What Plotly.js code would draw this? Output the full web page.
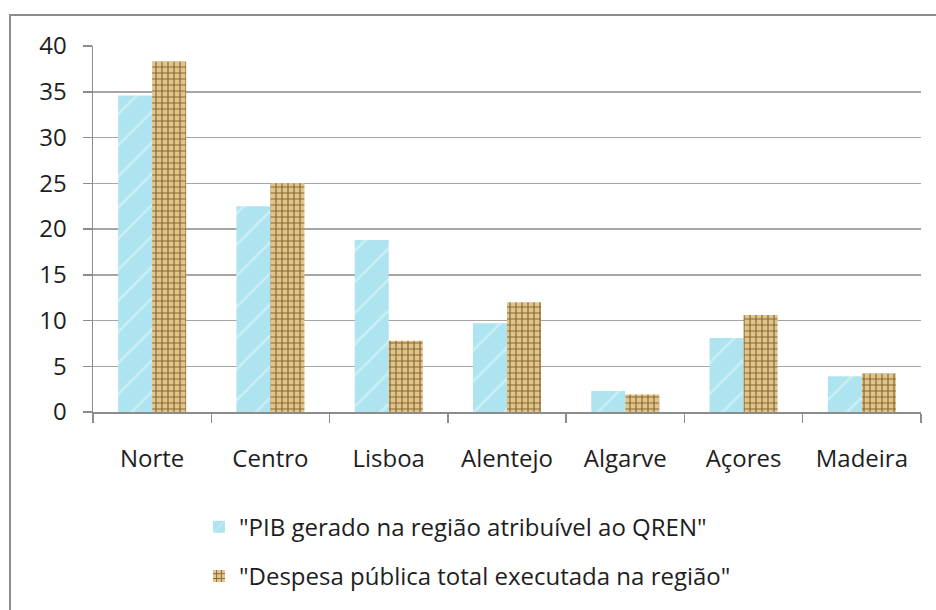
<!DOCTYPE html>
<html>
<head>
<meta charset="utf-8">
<script src="https://cdn.plot.ly/plotly-3.0.1.min.js"></script>
<style>
  html, body { margin: 0; padding: 0; background: #ffffff; }
  #wrap { position: relative; width: 936px; height: 610px; overflow: hidden; }
  #frame { position: absolute; left: 9px; top: 14px; width: 1000px; height: 700px;
           border-left: 2px solid #8c8c8c; border-top: 2px solid #8c8c8c; pointer-events: none; }
  #chart { position: absolute; left: 0; top: 0; width: 936px; height: 610px; }
</style>
</head>
<body>
<div id="wrap">
  <div id="chart"></div>
  <div id="frame"></div>
</div>
<script>
const categories = ["Norte", "Centro", "Lisboa", "Alentejo", "Algarve", "Açores", "Madeira"];
const pibValues = [34.6, 22.5, 18.8, 9.7, 2.3, 8.1, 3.9];
const despesaValues = [38.3, 25.0, 7.8, 12.0, 1.9, 10.6, 4.2];
const seriesNames = ['"PIB gerado na região atribuível ao QREN"', '"Despesa pública total executada na região"'];
const yTicks = [0, 5, 10, 15, 20, 25, 30, 35, 40];

const font = { family: '"Open Sans", "Noto Sans", sans-serif', size: 24, color: '#1e1e1e' };

const traces = [
  {
    type: 'bar', x: categories, y: pibValues, name: seriesNames[0], legendgroup: 'a',
    marker: {
      color: '#ade4ef',
      line: { width: 0 },
      pattern: { shape: '/', bgcolor: '#ade4ef', fgcolor: '#c9eff6', size: 22, solidity: 0.12, fillmode: 'replace' }
    },
    hoverinfo: 'x+y'
  },
  {
    type: 'bar', x: categories, y: despesaValues, name: seriesNames[1], legendgroup: 'b',
    marker: {
      color: '#d8bb7e',
      line: { width: 0 },
      pattern: { shape: '+', bgcolor: '#e0c68c', fgcolor: '#8a6630', size: 6, solidity: 0.35, fillmode: 'replace' }
    },
    hoverinfo: 'x+y'
  }
];

const layout = {
  width: 936, height: 610,
  margin: { l: 93, r: 15, t: 46, b: 197 },
  paper_bgcolor: '#ffffff', plot_bgcolor: '#ffffff',
  font: font,
  barmode: 'group', bargap: 0.425, bargroupgap: 0,
  showlegend: true,
  legend: {
    orientation: 'v', x: 0.128, xanchor: 'left', y: -0.25, yanchor: 'top',
    font: font, tracegroupgap: 15, bgcolor: 'rgba(0,0,0,0)', itemwidth: 30
  },
  xaxis: {
    type: 'category', categoryorder: 'array', categoryarray: categories,
    showline: true, linecolor: '#8c8c8c', linewidth: 1.5,
    ticks: 'outside', tickson: 'boundaries', ticklen: 9, tickcolor: '#8c8c8c', tickwidth: 1.5,
    ticklabelstandoff: 25,
    showgrid: false, zeroline: false, fixedrange: true,
    tickfont: font
  },
  yaxis: {
    range: [0, 40], tickmode: 'array', tickvals: yTicks, ticktext: yTicks.map(String),
    showline: true, linecolor: '#8c8c8c', linewidth: 1.5,
    ticks: 'outside', ticklen: 9, tickcolor: '#8c8c8c', tickwidth: 1.5,
    ticklabelstandoff: 11,
    showgrid: true, gridcolor: '#a6a6a6', gridwidth: 1.5,
    zeroline: false, fixedrange: true,
    tickfont: font
  }
};

Plotly.newPlot('chart', traces, layout, { displayModeBar: false, staticPlot: true });
</script>
</body>
</html>
